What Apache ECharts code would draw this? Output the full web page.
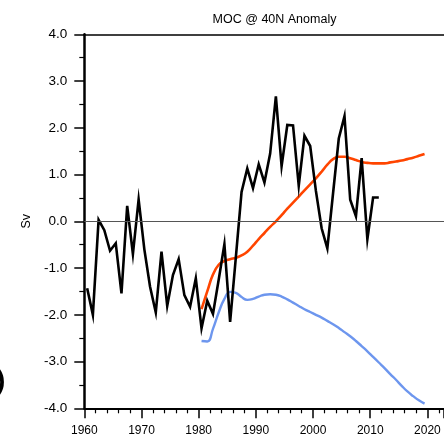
<!DOCTYPE html>
<html>
<head>
<meta charset="utf-8">
<title>MOC @ 40N Anomaly</title>
<script src="https://cdn.jsdelivr.net/npm/echarts@6/dist/echarts.min.js"></script>
<style>
  html, body { margin: 0; padding: 0; background: #fff; }
  #chart { width: 444px; height: 438px; }
</style>
</head>
<body>
<div id="chart"></div>
<script>
// annual means, plotted at mid-year
const obsStartYear = 1960
const obsValues = [
  -1.43, -2.00, 0.03, -0.19, -0.63, -0.47, -1.54, 0.33, -0.70, 0.47,
  -0.60, -1.40, -1.95, -0.65, -1.81, -1.15, -0.81, -1.58, -1.83, -1.22,
  -2.29, -1.70, -1.98, -1.25, -0.49, -2.15, -0.77, 0.63, 1.13, 0.71,
  1.22, 0.83, 1.45, 2.67, 1.18, 2.06, 2.05, 0.76, 1.83, 1.61,
  0.65, -0.15, -0.58, 0.60, 1.77, 2.25, 0.46, 0.11, 1.35, -0.38,
  0.51, 0.51
]

const fitStartYear = 1980
const orangeValues = [
  -1.88, -1.50, -1.14, -0.93, -0.85, -0.81, -0.78, -0.73, -0.65, -0.52,
  -0.38, -0.25, -0.12, 0.00, 0.13, 0.27, 0.40, 0.53, 0.66, 0.79,
  0.92, 1.06, 1.21, 1.33, 1.38, 1.38, 1.35, 1.31, 1.27, 1.25,
  1.24, 1.24, 1.24, 1.26, 1.28, 1.30, 1.33, 1.36, 1.40, 1.44
]
const blueValues = [
  -2.56, -2.57, -2.30, -1.95, -1.66, -1.51, -1.53, -1.62, -1.68, -1.66,
  -1.61, -1.57, -1.56, -1.57, -1.61, -1.67, -1.74, -1.81, -1.88, -1.94,
  -2.00, -2.06, -2.13, -2.20, -2.28, -2.37, -2.46, -2.56, -2.67, -2.78,
  -2.90, -3.02, -3.14, -3.27, -3.39, -3.52, -3.64, -3.74, -3.83, -3.90
]

const toPoints = (start, values) => values.map((v, i) => [start + i + 0.5, v])

const chart = echarts.init(document.getElementById('chart'))

// the plot runs off the right edge of the panel, so the x range stops mid-way
const xMin = 1960
const xMax = 2022.9

chart.setOption({
  animation: false,
  textStyle: { fontFamily: 'Liberation Sans, Arial, sans-serif', color: '#000' },
  title: {
    text: 'MOC @ 40N Anomaly',
    left: 269.5,
    top: 8,
    textAlign: 'center',
    textStyle: { fontSize: 12.5, fontWeight: 'normal', color: '#000' }
  },
  grid: {
    left: 84.3,
    top: 34.3,
    bottom: 29.7,
    right: 0
  },
  xAxis: [
    {
      type: 'value',
      min: xMin,
      max: xMax,
      interval: 10,
      axisLine: { show: true, onZero: false, lineStyle: { color: '#000', width: 2 } },
      axisTick: { show: true, length: 10, lineStyle: { color: '#000', width: 1.5 } },
      minorTick: { show: true, splitNumber: 5, length: 5, lineStyle: { color: '#000', width: 1.2 } },
      splitLine: { show: false },
      axisLabel: { fontSize: 12, color: '#000', margin: 16, showMaxLabel: false, formatter: (v) => String(v) }
    },
    {
      type: 'value',
      position: 'top',
      min: xMin,
      max: xMax,
      axisLine: { show: true, onZero: false, lineStyle: { color: '#000', width: 1.6 } },
      axisTick: { show: false },
      axisLabel: { show: false },
      splitLine: { show: false }
    }
  ],
  yAxis: {
    type: 'value',
    name: 'Sv',
    nameLocation: 'middle',
    nameGap: 41,
    nameRotate: 90,
    nameTextStyle: { fontSize: 12.5, color: '#000' },
    min: -4,
    max: 4,
    interval: 1,
    axisLine: { show: true, lineStyle: { color: '#000', width: 2.5 } },
    axisTick: { show: true, length: 10, lineStyle: { color: '#000', width: 1.5 } },
    minorTick: { show: true, splitNumber: 2, length: 5, lineStyle: { color: '#000', width: 1.2 } },
    splitLine: { show: false },
    axisLabel: { fontSize: 13.5, color: '#000', margin: 17, formatter: (v) => v.toFixed(1) }
  },
  graphic: [
    {
      type: 'text',
      x: -4,
      y: 367,
      style: { text: ')', fontSize: 28, fontWeight: 'bold', fill: '#000', fontFamily: 'Liberation Sans, Arial' }
    }
  ],
  series: [
    {
      name: 'blue',
      type: 'line',
      data: toPoints(fitStartYear, blueValues),
      smooth: true,
      showSymbol: false,
      lineStyle: { color: '#6d96ee', width: 2.4 }
    },
    {
      name: 'orange',
      type: 'line',
      data: toPoints(fitStartYear, orangeValues),
      smooth: true,
      showSymbol: false,
      lineStyle: { color: '#ff4500', width: 2.6 }
    },
    {
      name: 'obs',
      type: 'line',
      data: toPoints(obsStartYear, obsValues),
      showSymbol: false,
      lineStyle: { color: '#000', width: 2.6, join: 'miter' },
      markLine: {
        silent: true,
        symbol: 'none',
        label: { show: false },
        lineStyle: { color: '#555', type: 'solid', width: 1.2 },
        data: [{ yAxis: 0 }]
      },
      z: 3
    }
  ]
})
</script>
</body>
</html>
